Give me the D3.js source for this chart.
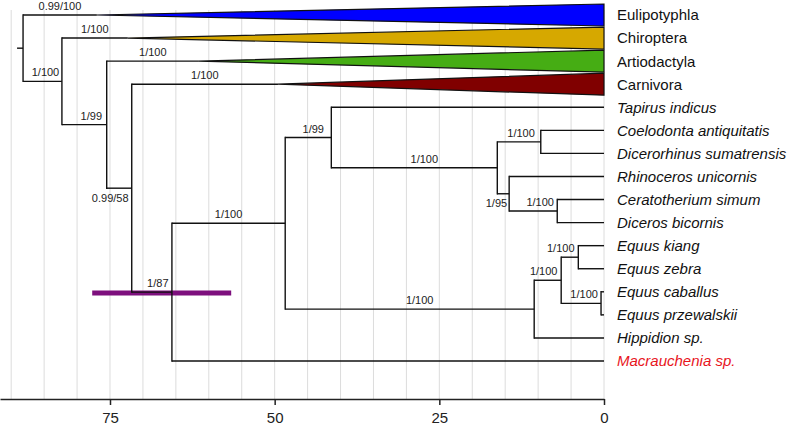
<!DOCTYPE html>
<html>
<head>
<meta charset="utf-8">
<script src="https://cdn.jsdelivr.net/npm/d3@7"></script>
<style>
  html, body { margin: 0; padding: 0; background: #fff; }
  svg { display: block; font-family: "Liberation Sans", Arial, Helvetica, sans-serif; }
</style>
</head>
<body>
<svg id="chart" width="788" height="426"></svg>
<script>
// ---------------- DATA ----------------
// Tips, top to bottom
const tipNames = ["Eulipotyphla", "Chiroptera", "Artiodactyla", "Carnivora",
  "Tapirus indicus", "Coelodonta antiquitatis", "Dicerorhinus sumatrensis",
  "Rhinoceros unicornis", "Ceratotherium simum", "Diceros bicornis",
  "Equus kiang", "Equus zebra", "Equus caballus", "Equus przewalskii",
  "Hippidion sp.", "Macrauchenia sp."];
// Collapsed clades: crown age (Ma) of the triangle apex
const collapsedClades = ["Eulipotyphla", "Chiroptera", "Artiodactyla", "Carnivora"];
const collapsedCrownAge = [77.0, 72.3, 61.5, 49.5];

// Internal nodes: id, parent, age (Ma)
const nodeIds     = ["root", "A", "B", "C", "D", "E", "F", "H", "I", "J", "K", "G", "L", "M", "N"];
const nodeParents = [null, "root", "A", "B", "C", "D", "E", "F", "H", "H", "J", "E", "G", "L", "L"];
const nodeAges    = [88.2, 82.3, 75.5, 71.7, 65.6, 48.4, 41.4, 16.2, 9.6, 14.4, 7.1, 10.6, 6.5, 3.9, 0.45];
// Parent of each tip (same order as tipNames)
const tipParents = ["root", "A", "B", "C", "F", "I", "I", "J", "K", "K", "M", "M", "N", "N", "G", "D"];

// Support values (posterior / bootstrap) on branch leading to node or tip
const supportIds    = ["Eulipotyphla", "Chiroptera", "Artiodactyla", "Carnivora", "A", "B", "C", "D", "E", "F", "H", "I", "J", "K", "G", "L", "M", "N"];
const supportLabels = ["0.99/100", "1/100", "1/100", "1/100", "1/100", "1/99", "0.99/58", "1/87", "1/100", "1/99", "1/100", "1/100", "1/95", "1/100", "1/100", "1/100", "1/100", "1/100"];

// 95% HPD interval on node D (Macrauchenia split)
const hpdNode = "D";
const hpdInterval = [77.7, 56.6];

// Axis
const axisTicks = [75, 50, 25, 0];
const gridStep = 5;
const axisDomain = [91.7, 0];

// ---------------- STYLE / LAYOUT ----------------
const cladeColors = { "Eulipotyphla": "#0000ff", "Chiroptera": "#d6a800", "Artiodactyla": "#46ad14", "Carnivora": "#800000" };
const labelNudge = { // pixel nudges for support labels relative to branch midpoint (anchor middle, above branch)
  "A": {dx: 3, dy: 0}, "B": {dx: 7, dy: 0}, "C": {dx: -9, dy: 19}, "D": {dx: 6, dy: 0},
  "F": {dx: 5, dy: 0}, "H": {dx: 10, dy: 0}, "I": {dx: 2, dy: 0}, "K": {dx: 7, dy: 0},
  "G": {dx: 10, dy: 0}, "L": {dx: -4, dy: 0}, "M": {dx: -9, dy: 0}, "N": {dx: 3, dy: 0}
};

const svg = d3.select("#chart");

const x = d3.scaleLinear().domain(axisDomain).range([0, 604]);
const y = d3.scaleLinear().domain([0, tipNames.length - 1]).range([15, 361]);
const axisY = 399;

// Build tree
const table = [];
nodeIds.forEach((id, i) => table.push({ id, parent: nodeParents[i], age: nodeAges[i], tip: false }));
tipNames.forEach((name, i) => {
  const ci = collapsedClades.indexOf(name);
  table.push({ id: name, parent: tipParents[i], age: 0, tip: true, index: i,
               collapsed: ci >= 0, crown: ci >= 0 ? collapsedCrownAge[ci] : null });
});
const root = d3.stratify().id(d => d.id).parentId(d => d.parent)(table);

// positions
root.eachAfter(n => {
  if (n.data.tip) n.py = y(n.data.index);
  else n.py = d3.mean(n.children, c => c.py);
  n.px = x(n.data.tip ? (n.data.collapsed ? n.data.crown : 0) : n.data.age);
});
const byId = new Map(root.descendants().map(n => [n.id, n]));

// Grid
svg.append("g").selectAll("line")
  .data(d3.range(90, -0.001, -gridStep))
  .join("line")
  .attr("x1", d => x(d)).attr("x2", d => x(d))
  .attr("y1", 10).attr("y2", axisY)
  .attr("stroke", "#dcdcdc").attr("stroke-width", 1);

// HPD bar
const hn = byId.get(hpdNode);
svg.append("line")
  .attr("x1", x(hpdInterval[0])).attr("x2", x(hpdInterval[1]))
  .attr("y1", hn.py + 0.8).attr("y2", hn.py + 0.8)
  .attr("stroke", "#7d0f7d").attr("stroke-width", 5);

const gTree = svg.append("g").attr("stroke", "#111").attr("stroke-width", 1.4).attr("fill", "none");

// Root stem
gTree.append("line")
  .attr("x1", x(root.data.age) - 6).attr("x2", x(root.data.age))
  .attr("y1", root.py).attr("y2", root.py);

// Vertical connectors
root.descendants().filter(n => n.children).forEach(n => {
  const ys = n.children.map(c => c.py);
  gTree.append("line")
    .attr("x1", x(n.data.age)).attr("x2", x(n.data.age))
    .attr("y1", d3.min(ys) - 0.7).attr("y2", d3.max(ys) + 0.7);
});

// Horizontal branches
root.descendants().filter(n => n.parent).forEach(n => {
  gTree.append("line")
    .attr("x1", x(n.parent.data.age)).attr("x2", n.px)
    .attr("y1", n.py).attr("y2", n.py);
});

// Collapsed clade triangles
root.leaves().filter(n => n.data.collapsed).forEach(n => {
  const ax = x(n.data.crown), ex = x(0);
  svg.append("path")
    .attr("d", `M${ax},${n.py}L${ex},${n.py - 11}L${ex},${n.py + 11}Z`)
    .attr("fill", cladeColors[n.id])
    .attr("stroke", "#111").attr("stroke-width", 1.2).attr("stroke-linejoin", "miter");
});

// Tip labels
svg.append("g").selectAll("text")
  .data(root.leaves())
  .join("text")
  .attr("x", 617).attr("y", d => d.py)
  .attr("dy", "0.36em")
  .attr("font-size", 15)
  .attr("font-style", d => d.data.collapsed ? "normal" : "italic")
  .attr("fill", d => d.id === "Macrauchenia sp." ? "#e8141c" : "#111")
  .text(d => d.id);

// Support labels
const gLab = svg.append("g").attr("font-size", 11).attr("fill", "#222");
supportIds.forEach((id, i) => {
  const n = byId.get(id);
  const x0 = x(n.parent.data.age), x1 = n.px;
  let tx = (x0 + x1) / 2, ty = n.py - 5, anchor = "middle";
  const nd = labelNudge[id];
  if (id === "J") { tx = x1 - 2; ty = n.py + 13; anchor = "end"; }
  else if (nd) { tx += nd.dx; ty += nd.dy; }
  gLab.append("text")
    .attr("x", tx).attr("y", ty)
    .attr("text-anchor", anchor)
    .text(supportLabels[i]);
});

// Axis
const axis = d3.axisBottom(x).tickValues(axisTicks).tickSize(6).tickSizeOuter(0).tickPadding(7)
  .tickFormat(d3.format("d"));
const gAxis = svg.append("g").attr("transform", `translate(0,${axisY})`).call(axis);
gAxis.select(".domain").attr("stroke", "#222").attr("stroke-width", 1.5);
gAxis.selectAll(".tick line").attr("stroke", "#222").attr("stroke-width", 1.5);
gAxis.selectAll(".tick text").attr("font-size", 15).attr("fill", "#222")
  .attr("font-family", "Liberation Sans, Arial, sans-serif");
</script>
</body>
</html>
